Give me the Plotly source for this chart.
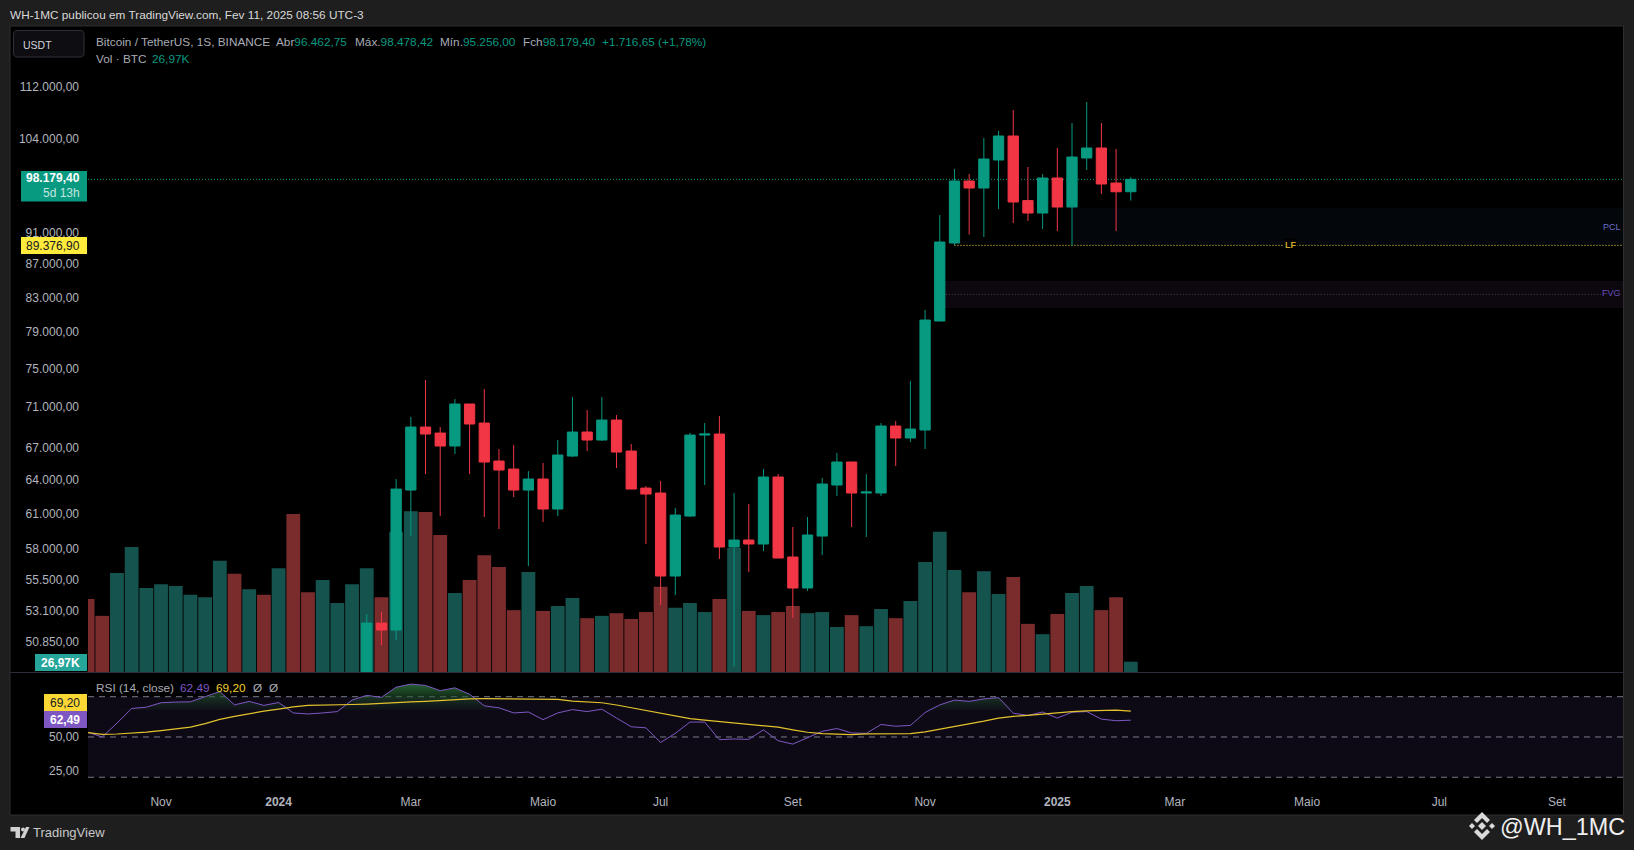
import numpy as np
import pandas as pd
import plotly.graph_objects as go

W, H = 1634, 850

# weekly bars, first visible volume bar is 2023-10-02, last is 2025-02-10
week_dates = pd.date_range("2023-10-02", "2025-02-10", freq="7D")

volume = [191, 147, 259, 327, 220, 230, 225, 202, 196, 291, 257, 217, 202, 272, 414, 209, 241, 181, 230,
          272, 196, 367, 421, 419, 359, 207, 241, 306, 275, 162, 262, 160, 173, 194, 141, 147, 154, 139,
          157, 223, 168, 181, 157, 191, 325, 160, 149, 157, 173, 154, 157, 118, 149, 120, 165, 141, 186,
          288, 367, 267, 209, 264, 204, 249, 126, 99, 152, 207, 225, 162, 196, 26.97]
volume_up = [0, 0, 1, 1, 1, 1, 1, 1, 1, 1, 0, 1, 0, 1, 0, 0, 1, 1, 1,
             1, 0, 1, 1, 0, 0, 1, 0, 0, 0, 0, 1, 0, 1, 1, 0, 1, 0, 0,
             0, 0, 1, 1, 1, 0, 1, 0, 1, 0, 0, 1, 1, 1, 0, 1, 1, 0, 1,
             1, 1, 1, 0, 1, 1, 0, 0, 1, 0, 1, 1, 0, 0, 1]

# candles below the visible price range are left out, these start at 2024-02-12
candle_dates = week_dates[19:]
opens = [48300, 52213, 51696, 63094, 69013, 68426, 67172, 71310, 69407, 65752, 65009, 63094, 64090, 61411,
         66222, 68524, 67748, 69704, 66696, 63274, 62825, 55826, 60802, 68232, 68329, 58178, 58762, 58428,
         64275, 57357, 54883, 59096, 63547, 65662, 62827, 62827, 69113, 67944, 68721, 80252, 89674, 97947,
         96976, 100920, 104426, 95256, 93586, 98366, 94388, 101207, 102657, 97668, 96462.75]
highs = [52886, 53037, 64090, 70003, 73788, 69013, 71818, 71310, 72848, 66885, 67267, 64823, 65566, 67748,
         72024, 70704, 72024, 70202, 67363, 63455, 63908, 61498, 68426, 69407, 70102, 62825, 61851, 65010,
         64549, 59860, 60717, 64183, 66508, 65662, 64549, 69409, 69607, 73683, 81518, 93320, 99634, 98927,
         104128, 105170, 108363, 99919, 98927, 102657, 106375, 109603, 106375, 102511, 98478.42]
lows = [47700, 50604, 50965, 59096, 64547, 60802, 66411, 64547, 60716, 59688, 62469, 56626, 60285, 60802,
        66128, 66696, 67651, 65101, 63183, 58427, 53569, 54336, 60716, 63545, 57194, 49069, 56145, 57849,
        57275, 52588, 54649, 57521, 62559, 59860, 59013, 62559, 65289, 67557, 66887, 80252, 89376.9, 90763,
        90445, 94121, 92263, 92527, 91479, 91219, 89376.9, 99492, 96151, 91219, 95256]
closes = [52213, 51696, 63183, 69013, 68329, 67172, 71310, 69309, 65659, 64916, 63094, 64090, 61411, 66317,
          68524, 67748, 69704, 66600, 63183, 62736, 55826, 60889, 68232, 68329, 58178, 58760, 58428, 64275,
          57275, 54883, 59182, 63637, 65662, 62827, 62917, 69113, 67944, 68818, 80366, 89802, 97947, 96976,
          101062, 104426, 95063, 93586, 98366, 94388, 101350, 102657, 97529, 96462, 98179.4]

rsi = [53.5, 50.0, 60.3, 71.2, 72.2, 75.5, 76.0, 76.2, 80.0, 83.8, 73.9, 76.5, 73.5, 75.7, 67.9, 67.1, 67.9, 68.9,
       77.5, 81.0, 79.5, 87.1, 89.4, 88.4, 84.5, 86.6, 81.8, 73.2, 71.7, 67.9, 68.6, 62.9, 67.9, 70.4, 68.9, 70.7,
       64.1, 57.6, 56.8, 45.9, 52.7, 61.1, 61.1, 48.0, 48.5, 48.2, 55.3, 47.2, 44.7, 49.2, 54.2, 56.3, 53.0, 52.7,
       59.3, 58.0, 58.6, 68.2, 73.9, 77.5, 76.5, 78.3, 79.3, 67.7, 66.1, 68.6, 64.1, 68.4, 68.9, 63.3, 62.1, 62.49]
rsi_ma = [53.3, 52.0, 52.2, 52.7, 53.6, 54.8, 56.0, 57.3, 60.0, 63.1, 65.4, 67.4, 69.2, 70.7, 72.4, 73.5, 73.9, 74.0,
          74.2, 74.5, 75.2, 75.7, 76.1, 76.5, 77.3, 78.0, 78.4, 78.5, 78.5, 78.5, 78.5, 78.5, 78.0, 76.7, 76.1, 75.5,
          73.8, 71.7, 69.4, 67.4, 65.4, 63.6, 62.6, 61.6, 60.5, 59.3, 58.3, 57.3, 55.3, 53.5, 52.5, 52.3, 51.7, 52.3,
          52.5, 52.5, 52.5, 53.8, 55.8, 57.6, 59.3, 61.8, 64.1, 65.4, 66.1, 67.1, 67.9, 68.9, 69.4, 69.9, 70.0, 69.2]

price_ticks = [112000, 104000, 91000, 87000, 83000, 79000, 75000, 71000, 67000, 64000, 61000, 58000, 55500, 53100, 50850]
price_labels = ["112.000,00", "104.000,00", "91.000,00", "87.000,00", "83.000,00", "79.000,00", "75.000,00", "71.000,00",
                "67.000,00", "64.000,00", "61.000,00", "58.000,00", "55.500,00", "53.100,00", "50.850,00"]
time_ticks = ["2023-11-06", "2024-01-01", "2024-03-04", "2024-05-06", "2024-07-01", "2024-09-02",
              "2024-11-04", "2025-01-06", "2025-03-03", "2025-05-05", "2025-07-07", "2025-09-01"]
time_labels = ["Nov", "<b>2024</b>", "Mar", "Maio", "Jul", "Set", "Nov", "<b>2025</b>", "Mar", "Maio", "Jul", "Set"]

last_close = 98179.4
liquidity = 89376.9
pcl_top = 94300
fvg_top, fvg_mid, fvg_bottom = 84955, 83357, 81751

TEAL = "#089981"
RED = "#F23645"
VOL_UP = "#15534F"
VOL_DOWN = "#7A2B2C"
PURPLE = "#7E57C2"
YELLOW = "#E3C32C"
GREY = "#B2B5BE"
FONT = "Liberation Sans"
DOTS = "1px,2px"


def fx(px):
    return px / W


def fy(px):
    return 1 - px / H


fig = go.Figure()

fig.add_trace(go.Bar(
    x=week_dates, y=volume, xaxis="x", yaxis="y",
    marker=dict(color=[VOL_UP if u else VOL_DOWN for u in volume_up], line_width=0),
    showlegend=False, hoverinfo="skip",
))
fig.add_trace(go.Candlestick(
    x=candle_dates, open=opens, high=highs, low=lows, close=closes, xaxis="x", yaxis="y2",
    increasing=dict(line=dict(color=TEAL, width=1), fillcolor=TEAL),
    decreasing=dict(line=dict(color=RED, width=1), fillcolor=RED),
    whiskerwidth=0, showlegend=False, hoverinfo="skip",
))

# green gradient where the RSI goes above 70
fig.add_trace(go.Scatter(
    x=week_dates, y=[70] * len(rsi), xaxis="x2", yaxis="y3", mode="lines",
    line=dict(width=0), showlegend=False, hoverinfo="skip",
))
fig.add_trace(go.Scatter(
    x=week_dates, y=np.maximum(rsi, 70), xaxis="x2", yaxis="y3", mode="lines",
    line=dict(width=0), fill="tonexty",
    fillgradient=dict(type="vertical", start=70, stop=90,
                      colorscale=[[0, "rgba(30,70,40,0.1)"], [1, "rgba(38,100,52,1)"]]),
    showlegend=False, hoverinfo="skip",
))
fig.add_trace(go.Scatter(
    x=week_dates, y=rsi, xaxis="x2", yaxis="y3", mode="lines",
    line=dict(color=PURPLE, width=1), showlegend=False, hoverinfo="skip",
))
fig.add_trace(go.Scatter(
    x=week_dates, y=rsi_ma, xaxis="x2", yaxis="y3", mode="lines",
    line=dict(color=YELLOW, width=1.2), showlegend=False, hoverinfo="skip",
))

x_left = week_dates[0] + pd.Timedelta(days=0.2)
x_right = pd.Timestamp("2025-10-02 12:00")
main_bottom, main_top = 48700, 121950

axis_font = dict(family=FONT, size=12, color=GREY)
fig.update_layout(
    width=W, height=H, margin=dict(l=0, r=0, t=0, b=0),
    paper_bgcolor="#1E1E1E", plot_bgcolor="#000000",
    bargap=0.06, boxgap=0, showlegend=False, font=dict(family=FONT),
    xaxis=dict(domain=[fx(88), fx(1623)], range=[x_left, x_right], type="date", anchor="y",
               rangeslider=dict(visible=False), showgrid=False, zeroline=False, showticklabels=False, ticks=""),
    xaxis2=dict(domain=[fx(88), fx(1623)], range=[x_left, x_right], type="date", anchor="y3", matches="x",
                tickmode="array", tickvals=time_ticks, ticktext=time_labels, tickfont=axis_font, ticks="",
                ticklabelstandoff=3, showgrid=False, zeroline=False, showline=False),
    yaxis=dict(domain=[fy(672), fy(27)], range=[0, 1689], visible=False, fixedrange=True),
    yaxis2=dict(domain=[fy(672), fy(27)], overlaying="y", side="left", type="log", anchor="x",
                range=[np.log10(main_bottom), np.log10(main_top)],
                tickmode="array", tickvals=price_ticks, ticktext=price_labels, tickfont=axis_font, ticks="",
                ticklabelstandoff=8, showgrid=False, zeroline=False, showline=False),
    yaxis3=dict(domain=[fy(790), fy(673)], range=[10.5, 97.65], anchor="x2",
                tickmode="array", tickvals=[50, 25], ticktext=["50,00", "25,00"], tickfont=axis_font, ticks="",
                ticklabelstandoff=8, showgrid=False, zeroline=False, showline=False),
)


def box(x0, y0, x1, y1, fill, line=None, layer="above"):
    fig.add_shape(type="rect", xref="paper", yref="paper", x0=fx(x0), x1=fx(x1), y0=fy(y1), y1=fy(y0),
                  fillcolor=fill, line=dict(color=line or fill, width=1 if line else 0), layer=layer)


def poly(points, fill):
    path = "M " + " L ".join(f"{fx(a):.5f},{fy(b):.5f}" for a, b in points) + " Z"
    fig.add_shape(type="path", xref="paper", yref="paper", path=path, fillcolor=fill, line_width=0, layer="above")


def round_box(x0, y0, x1, y1, r, fill, line):
    p = [("M", x0 + r, y0), ("L", x1 - r, y0), ("Q", x1, y0, x1, y0 + r), ("L", x1, y1 - r), ("Q", x1, y1, x1 - r, y1),
         ("L", x0 + r, y1), ("Q", x0, y1, x0, y1 - r), ("L", x0, y0 + r), ("Q", x0, y0, x0 + r, y0)]
    path = ""
    for seg in p:
        coords = [f"{fx(seg[i]):.5f},{fy(seg[i + 1]):.5f}" for i in range(1, len(seg), 2)]
        path += seg[0] + " " + " ".join(coords) + " "
    fig.add_shape(type="path", xref="paper", yref="paper", path=path + "Z", fillcolor=fill,
                  line=dict(color=line, width=1), layer="above")


def note(text, x, y, color=GREY, size=11.8, anchor="left", bg=None, pad=0):
    if anchor == "left":
        x -= 1.5
    elif anchor == "right":
        x += 1
    fig.add_annotation(text=text, xref="paper", yref="paper", x=fx(x), y=fy(y), xanchor=anchor, yanchor="middle",
                       showarrow=False, font=dict(family=FONT, size=size, color=color), bgcolor=bg, borderpad=pad)


# panel behind the chart
box(10, 26, 1623.5, 815, "#000000", line="#2E2E2E", layer="below")

# price lines and zones
fig.add_shape(type="rect", xref="x", yref="y2", x0=week_dates[67], x1=x_right, y0=liquidity, y1=pcl_top,
              fillcolor="#03070C", line_width=0, layer="below")
fig.add_shape(type="rect", xref="x", yref="y2", x0=week_dates[58], x1=x_right, y0=fvg_bottom, y1=fvg_top,
              fillcolor="#0D080F", line_width=0, layer="below")
fig.add_shape(type="line", xref="x", yref="y2", x0=x_left, x1=x_right, y0=last_close, y1=last_close,
              line=dict(color=TEAL, width=1, dash=DOTS), layer="below")
fig.add_shape(type="line", xref="x", yref="y2", x0=week_dates[59], x1=x_right, y0=liquidity, y1=liquidity,
              line=dict(color="#FFEB3B", width=1, dash=DOTS), layer="below")
fig.add_shape(type="line", xref="x", yref="y2", x0=week_dates[58], x1=pd.Timestamp("2025-09-23"), y0=fvg_mid, y1=fvg_mid,
              line=dict(color="#4A4552", width=1, dash=DOTS), layer="below")

# RSI band and levels
fig.add_shape(type="rect", xref="x2 domain", yref="y3", x0=0, x1=1, y0=20, y1=80,
              fillcolor="#0D0A16", line_width=0, layer="below")
for level in [80, 50, 20]:
    fig.add_shape(type="line", xref="x2 domain", yref="y3", x0=0, x1=1, y0=level, y1=level,
                  line=dict(color="#787B86", width=1, dash="6px,5px"), layer="below")

# pane separator
box(10, 672, 1623, 673, "#2A2E39")

# header
note("WH-1MC publicou em TradingView.com, Fev 11, 2025 08:56 UTC-3", 10, 14.5, "#D8D8D8")
round_box(13.5, 30.5, 84, 57, 4, "#0E0E12", "#30323A")
note("USDT", 23, 44.5, "#D1D4DC", 10.5)

LEG = "#A9ACB5"
note("Bitcoin / TetherUS, 1S, BINANCE", 96, 41.5, LEG)
note(f"Abr<span style='color:{TEAL}'>96.462,75</span>", 276, 41.5, LEG)
note(f"Máx.<span style='color:{TEAL}'>98.478,42</span>", 355, 41.5, LEG)
note(f"Mín.<span style='color:{TEAL}'>95.256,00</span>", 440, 41.5, LEG)
note(f"Fch<span style='color:{TEAL}'>98.179,40</span>", 523, 41.5, LEG)
note("+1.716,65 (+1,78%)", 602, 41.5, TEAL)
note("Vol · BTC", 96, 58.5, LEG)
note("26,97K", 152, 58.5, TEAL)

# price scale badges
box(21, 171, 87, 201.5, TEAL)
note("<b>98.179,40</b>", 79.5, 178.5, "#FFFFFF", 12, "right")
note("5d 13h", 79.5, 193, "#C4E6DF", 12, "right")
box(21, 237, 87, 254, "#FFEB3B")
note("89.376,90", 79.5, 245.5, "#131722", 12, "right")
box(35, 654, 87, 671, "#26A69A")
note("<b>26,97K</b>", 79.5, 662.5, "#FFFFFF", 12, "right")

# zone tags
note("<b>LF</b>", 1290, 245, "#C9A92A", 9, "center", bg="#000000", pad=1)
note("PCL", 1621, 226.5, "#6A6FC8", 9, "right")
note("FVG", 1621, 293.5, "#6A4DBE", 9, "right")

# RSI legend and badges
note("RSI (14, close)", 96.5, 688, LEG)
note("62,49", 180, 688, PURPLE)
note("69,20", 216.8, 688, "#F2CF2E")
note("Ø", 253, 688, LEG)
note("Ø", 269, 688, LEG)
box(44, 694, 87, 711, "#FDD835")
note("69,20", 79.5, 702.5, "#131722", 12, "right")
box(44, 711, 87, 728, PURPLE)
note("<b>62,49</b>", 79.5, 719.5, "#FFFFFF", 12, "right")

# footer, TradingView mark
poly([(10.5, 827), (20, 827), (20, 838), (15.5, 838), (15.5, 831.5), (10.5, 831.5)], "#D0D0D0")
poly([(26, 827), (29.5, 827), (24.5, 838), (20.5, 838)], "#D0D0D0")
fig.add_shape(type="circle", xref="paper", yref="paper", x0=fx(21), x1=fx(25), y0=fy(831.5), y1=fy(827.5),
              fillcolor="#D0D0D0", line_width=0)
note("TradingView", 33, 832.5, "#C8C8C8", 13)

# footer, watermark
cx, cy = 1482, 826
LOGO = "#DADADA"
poly([(cx, cy - 4), (cx + 4, cy), (cx, cy + 4), (cx - 4, cy)], LOGO)
poly([(cx - 10, cy - 3), (cx - 7, cy), (cx - 10, cy + 3), (cx - 13, cy)], LOGO)
poly([(cx + 10, cy - 3), (cx + 13, cy), (cx + 10, cy + 3), (cx + 7, cy)], LOGO)
poly([(cx, cy - 14), (cx + 8, cy - 6), (cx + 5, cy - 3), (cx, cy - 8), (cx - 5, cy - 3), (cx - 8, cy - 6)], LOGO)
poly([(cx, cy + 14), (cx + 8, cy + 6), (cx + 5, cy + 3), (cx, cy + 8), (cx - 5, cy + 3), (cx - 8, cy + 6)], LOGO)
note("@WH_1MC", 1500, 827, "#EFEFEF", 23.4)

fig.write_html("out.html", config=dict(displayModeBar=False),
               post_script="document.body.style.margin='0';document.body.style.overflow='hidden';")
